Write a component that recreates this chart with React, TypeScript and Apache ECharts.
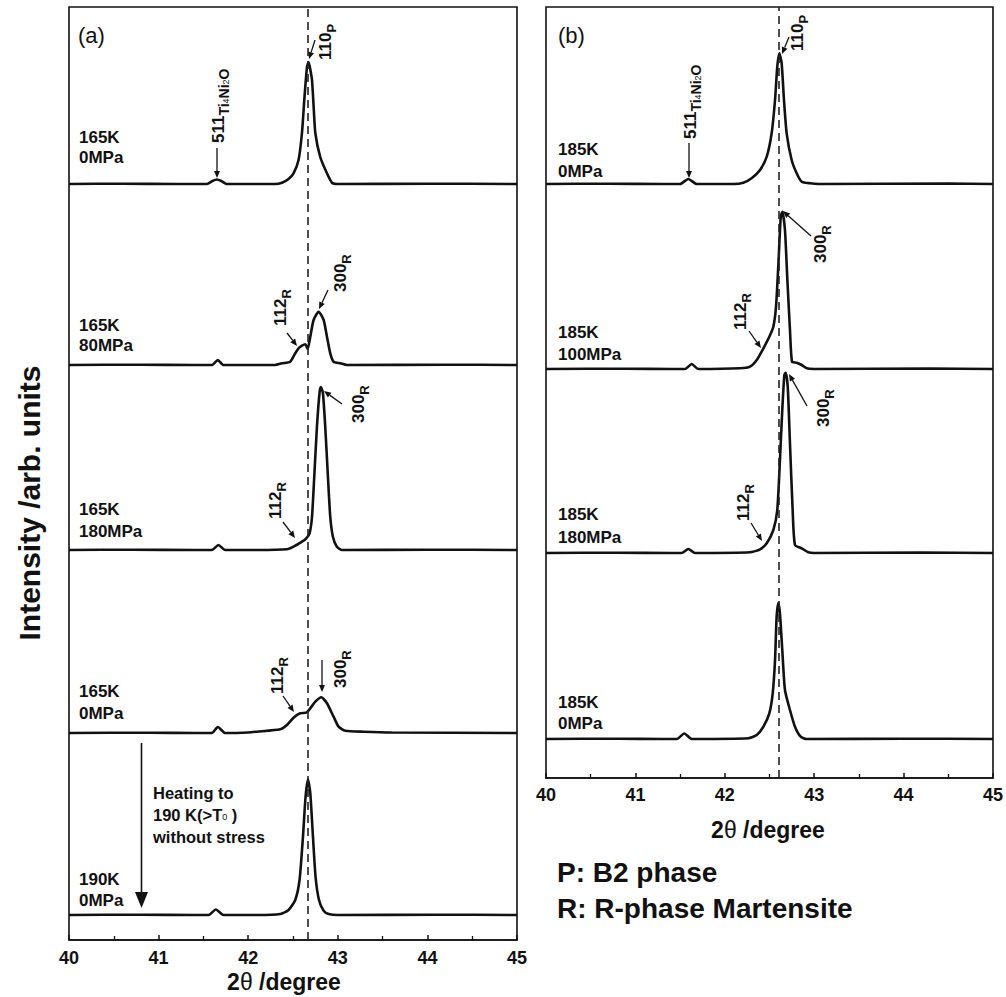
import React, { useEffect, useRef } from "react";
import * as echarts from "echarts";

// ---------------- DATA ----------------
const X_MIN = 40;
const X_MAX = 45;
const X_INTERVAL = 1;

// Panel (a): 2θ (degree) vs intensity above each trace's own baseline (arb. units)
const a1_165K_0MPa = [[40,0],[40.6,0.3],[41.2,0],[41.54,0],[41.6,3],[41.65,4.5],[41.7,3],[41.76,0],[42.0,0],[42.3,0],[42.377,1.3],[42.45,5],[42.506,10.7],[42.562,24],[42.6,51],[42.626,84],[42.656,117],[42.674,122],[42.69,116],[42.712,104],[42.73,78],[42.749,51],[42.804,27],[42.879,10.7],[42.935,1.3],[43.0,0],[44.0,0.3],[45,0]];
const a2_165K_80MPa = [[40,0],[40.8,0.3],[41.4,0],[41.594,0],[41.661,5],[41.724,0],[42.0,0],[42.3,0],[42.377,1.7],[42.469,3.3],[42.525,11.7],[42.562,16.7],[42.6,19.3],[42.637,20.7],[42.663,16],[42.693,28.3],[42.73,45],[42.786,53.3],[42.842,45],[42.879,28.3],[42.916,11.7],[42.953,3.3],[43.03,1.7],[43.1,0],[44.2,0.3],[45,0]];
const a3_165K_180MPa = [[40,0],[40.7,0.3],[41.4,0],[41.594,0],[41.668,5],[41.743,0],[42.1,0],[42.432,0.7],[42.506,3.3],[42.6,8.3],[42.648,11.7],[42.685,16.7],[42.712,33],[42.737,73],[42.767,123],[42.797,158],[42.812,163],[42.834,157],[42.86,123],[42.89,73],[42.916,33],[42.946,13],[42.99,3.3],[43.047,0],[44.0,0.3],[45,0]];
const a4_165K_0MPa = [[40,0],[40.9,0.3],[41.4,0],[41.594,0],[41.661,6],[41.743,0],[42.0,0.5],[42.097,1.3],[42.358,3.7],[42.432,8],[42.506,15.3],[42.581,19.7],[42.648,20.3],[42.693,24.7],[42.749,31.3],[42.816,35.7],[42.879,29.7],[42.953,16.3],[43.009,6.3],[43.084,2.3],[43.29,1.3],[43.6,0.5],[45,0]];
const a5_190K_0MPa = [[40,0],[40.8,0.3],[41.4,0],[41.557,0],[41.639,5.5],[41.724,0],[42.1,0],[42.358,1],[42.45,5],[42.525,15],[42.573,35],[42.611,78],[42.64,118],[42.667,135.7],[42.693,121.7],[42.723,78],[42.752,38],[42.79,15],[42.842,4.3],[42.898,1],[43.0,0],[44.1,0.3],[45,0]];

// Panel (b)
const b1_185K_0MPa = [[40,0],[40.7,0.3],[41.3,0],[41.499,0],[41.592,5],[41.686,0],[42.1,0],[42.207,1.3],[42.3,5.7],[42.394,14],[42.469,27.3],[42.524,50.7],[42.562,84],[42.587,117.3],[42.61,130.7],[42.636,120.7],[42.662,84],[42.692,50.7],[42.748,24],[42.804,10.7],[42.86,2.3],[42.953,0.7],[43.05,0],[44.5,0.4],[45,0]];
const b2_185K_100MPa = [[40,0],[40.9,0.3],[41.4,0],[41.555,0],[41.63,5],[41.704,0],[42.17,0.7],[42.282,2.3],[42.357,9],[42.432,20.7],[42.498,32.3],[42.543,42.3],[42.573,62.3],[42.6,105.7],[42.626,152.3],[42.644,157.3],[42.673,139],[42.7,89],[42.729,39],[42.752,7.3],[42.804,6.3],[42.86,4],[42.916,0.7],[43.0,0],[44.3,0.4],[45,0]];
const b3_185K_180MPa = [[40,0],[40.8,0.3],[41.4,0],[41.517,0],[41.592,4],[41.667,0],[42.282,0.7],[42.394,3.7],[42.469,9.7],[42.543,23],[42.587,43],[42.617,93],[42.643,143],[42.666,178],[42.681,180.3],[42.704,166.3],[42.729,109.7],[42.759,43],[42.785,8],[42.86,4.7],[42.934,0.7],[43.0,0],[44.2,0.4],[45,0]];
const b4_185K_0MPa = [[40,0],[40.8,0.3],[41.3,0],[41.462,0],[41.547,5.5],[41.63,0],[42.263,0.7],[42.357,4],[42.432,12.3],[42.498,25.7],[42.536,45.7],[42.562,79],[42.58,122.3],[42.6,136.3],[42.617,125.7],[42.643,89],[42.673,49],[42.729,29],[42.785,12.3],[42.849,2.3],[42.916,0],[44.0,0.3],[45,0]];

const tracesA = [a1_165K_0MPa, a2_165K_80MPa, a3_165K_180MPa, a4_165K_0MPa, a5_190K_0MPa];
const offsetsA = [756, 575, 390, 207, 25];
const yMaxA = 933;
const tracesB = [b1_185K_0MPa, b2_185K_100MPa, b3_185K_180MPa, b4_185K_0MPa];
const offsetsB = [594, 409, 225, 39];
const yMaxB = 771;

const refLineA = 42.67; // 110P position, panel (a)
const refLineB = 42.6;  // 110P position, panel (b)

// ---------------- HELPERS ----------------
const FONT = '"Liberation Sans", Arial, Helvetica, sans-serif';
const INK = "#111";

function txt(x: number, y: number, s: string, size: number, weight = "bold", extra: any = {}) {
  return {
    type: "text", x, y, z: 100, silent: true,
    style: { text: s, fontSize: size, fontWeight: weight, fontFamily: FONT, fill: INK, align: "left", verticalAlign: "middle", ...extra },
  };
}

const RICH = {
  m: { fontSize: 17, fontWeight: "bold", fontFamily: FONT, fill: INK, lineHeight: 18, verticalAlign: "top" },
  s: { fontSize: 13, fontWeight: "bold", fontFamily: FONT, fill: INK, lineHeight: 21, verticalAlign: "bottom" },
  t: { fontSize: 14, fontWeight: "bold", fontFamily: FONT, fill: INK, lineHeight: 21, verticalAlign: "bottom" },
  ss: { fontSize: 9, fontWeight: "normal", fontFamily: FONT, fill: INK, lineHeight: 21, verticalAlign: "bottom" },
};

function rlabel(x: number, y: number, rich: string) {
  return {
    type: "text", x, y, z: 100, silent: true, rotation: Math.PI / 2,
    style: { text: rich, rich: RICH, align: "left", verticalAlign: "middle", fill: INK },
  };
}

function arrow(x1: number, y1: number, x2: number, y2: number, head = 7, half = 3, width = 1.3) {
  const ang = Math.atan2(y2 - y1, x2 - x1);
  const c = Math.cos(ang), s = Math.sin(ang);
  const bx = x2 - head * c, by = y2 - head * s;
  const px = -s * half, py = c * half;
  return [
    { type: "line", z: 100, silent: true, shape: { x1, y1, x2: bx, y2: by }, style: { stroke: INK, lineWidth: width } },
    { type: "polygon", z: 100, silent: true, shape: { points: [[x2, y2], [bx + px, by + py], [bx - px, by - py]] }, style: { fill: INK } },
  ];
}

const S511 = "{m|511}{t|Ti}{ss|4}{t|Ni}{ss|2}{t|O}";
const S110 = "{m|110}{s|P}";
const S112 = "{m|112}{s|R}";
const S300 = "{m|300}{s|R}";

function buildGraphics() {
  const g: any[] = [];
  // Y title
  g.push({
    type: "text", x: 29, y: 503, z: 100, rotation: Math.PI / 2, silent: true,
    style: { text: "Intensity /arb. units", fontSize: 30, fontWeight: "bold", fontFamily: FONT, fill: INK, align: "center", verticalAlign: "middle" },
  });
  // ---- panel (a)
  g.push(txt(78, 35, "(a)", 22, "normal"));
  g.push(txt(79, 147, "165K\n0MPa", 17, "bold", { lineHeight: 20 }));
  g.push(rlabel(220, 143, S511));
  g.push(...arrow(217, 148, 217, 178));
  g.push(rlabel(327, 60, S110));
  g.push(...arrow(315, 40, 309, 59));

  g.push(txt(79, 335, "165K\n80MPa", 17, "bold", { lineHeight: 20 }));
  g.push(rlabel(282, 326, S112));
  g.push(...arrow(287, 333, 297, 346));
  g.push(rlabel(342, 292, S300));
  g.push(...arrow(328, 290, 319, 309));

  g.push(txt(79, 520, "165K\n180MPa", 17, "bold", { lineHeight: 22 }));
  g.push(rlabel(277, 519, S112));
  g.push(...arrow(283, 522, 295, 538));
  g.push(rlabel(360, 423, S300));
  g.push(...arrow(342, 404, 324, 391));

  g.push(txt(79, 702, "165K\n0MPa", 17, "bold", { lineHeight: 22 }));
  g.push(rlabel(279, 694, S112));
  g.push(...arrow(283, 696, 294, 712));
  g.push(rlabel(342, 688, S300));
  g.push(...arrow(322, 660, 322, 692));

  g.push(txt(79, 889.5, "190K\n0MPa", 17, "bold", { lineHeight: 21 }));
  g.push(...arrow(141.5, 743, 141.5, 908, 16, 6.5, 1.6));
  g.push({
    type: "text", x: 153, y: 814.5, z: 100, silent: true,
    style: {
      text: "{n|Heating to}\n{n|190 K(>T}{z|0}{n| )}\n{n|without stress}",
      rich: {
        n: { fontSize: 16.5, fontWeight: "bold", fontFamily: FONT, fill: INK, lineHeight: 22 },
        z: { fontSize: 9, fontWeight: "normal", fontFamily: FONT, fill: INK, lineHeight: 22, verticalAlign: "middle", padding: [4, 0, 0, 0] },
      },
      align: "left", verticalAlign: "middle",
    },
  });

  // ---- panel (b)
  g.push(txt(558, 35, "(b)", 22, "normal"));
  g.push(txt(558, 160, "185K\n0MPa", 17, "bold", { lineHeight: 22 }));
  g.push(rlabel(692, 139, S511));
  g.push(...arrow(689, 143, 689, 178));
  g.push(rlabel(799, 51, S110));
  g.push(...arrow(789, 37, 782, 54));

  g.push(txt(558, 343, "185K\n100MPa", 17, "bold", { lineHeight: 22 }));
  g.push(rlabel(742, 330, S112));
  g.push(...arrow(749, 331, 761, 348));
  g.push(rlabel(822, 263, S300));
  g.push(...arrow(811, 236, 783, 211));

  g.push(txt(558, 525.5, "185K\n180MPa", 17, "bold", { lineHeight: 23 }));
  g.push(rlabel(745, 521, S112));
  g.push(...arrow(751, 523, 762, 541));
  g.push(rlabel(825, 427, S300));
  g.push(...arrow(807, 406, 789, 374));

  g.push(txt(558, 712.5, "185K\n0MPa", 17, "bold", { lineHeight: 21 }));

  // axis names
  const axName = (x: number, y: number) => ({
    type: "text", x, y, z: 100, silent: true,
    style: {
      text: "{n|2}{th|θ}{n| /degree}",
      rich: {
        n: { fontSize: 23, fontWeight: "bold", fontFamily: FONT, fill: INK },
        th: { fontSize: 23, fontWeight: "normal", fontFamily: FONT, fill: INK },
      },
      align: "center", verticalAlign: "middle",
    },
  });
  g.push(axName(284, 982));
  g.push(axName(768, 830));

  // legend text
  g.push(txt(557, 872, "P: B2 phase", 28, "bold"));
  g.push(txt(557, 908, "R: R-phase Martensite", 28, "bold"));
  return g;
}

function makeXAxis(gridIndex: number, margin: number) {
  return {
    gridIndex, type: "value", min: X_MIN, max: X_MAX, interval: X_INTERVAL,
    axisLine: { show: true, onZero: false, lineStyle: { color: INK, width: 1.6 } },
    axisTick: { show: true, inside: true, length: 5, lineStyle: { color: INK, width: 1.5 } },
    minorTick: { show: true, splitNumber: 2, length: 4, lineStyle: { color: INK, width: 1.3 } },
    splitLine: { show: false },
    minorSplitLine: { show: false },
    axisLabel: { color: INK, fontSize: 18, fontWeight: "bold", fontFamily: FONT, margin },
  };
}

function makeSeries(traces: number[][][], offsets: number[], axisIndex: number, refLine: number) {
  return traces.map((t, i) => ({
    type: "line",
    xAxisIndex: axisIndex, yAxisIndex: axisIndex,
    data: t.map(([x, h]) => [x, h + offsets[i]]),
    showSymbol: false, symbol: "none",
    smooth: 0.2,
    silent: true,
    lineStyle: { color: INK, width: 2.6 },
    ...(i === 0
      ? {
          markLine: {
            silent: true, symbol: ["none", "none"], label: { show: false },
            lineStyle: { color: "#222", type: [8, 5], width: 1.6 },
            data: [{ xAxis: refLine }],
          },
        }
      : {}),
  }));
}

export default function App() {
  const ref = useRef<HTMLDivElement>(null);
  useEffect(() => {
    if (!ref.current) return;
    const chart = echarts.init(ref.current, null, { renderer: "svg" });
    const option: any = {
      animation: false,
      backgroundColor: "#fff",
      textStyle: { fontFamily: FONT },
      grid: [
        { left: 69, top: 7, width: 448, height: 933, show: true, borderColor: INK, borderWidth: 1.6, backgroundColor: "transparent" },
        { left: 546, top: 7, width: 447, height: 771, show: true, borderColor: INK, borderWidth: 1.6, backgroundColor: "transparent" },
      ],
      xAxis: [makeXAxis(0, 9), makeXAxis(1, 8)],
      yAxis: [
        { gridIndex: 0, type: "value", min: 0, max: yMaxA, show: false },
        { gridIndex: 1, type: "value", min: 0, max: yMaxB, show: false },
      ],
      series: [
        ...makeSeries(tracesA, offsetsA, 0, refLineA),
        ...makeSeries(tracesB, offsetsB, 1, refLineB),
      ],
      graphic: { elements: buildGraphics() },
    };
    chart.setOption(option);
    return () => chart.dispose();
  }, []);
  return <div ref={ref} style={{ position: "fixed", left: 0, top: 0, width: 1006, height: 997 }} />;
}
